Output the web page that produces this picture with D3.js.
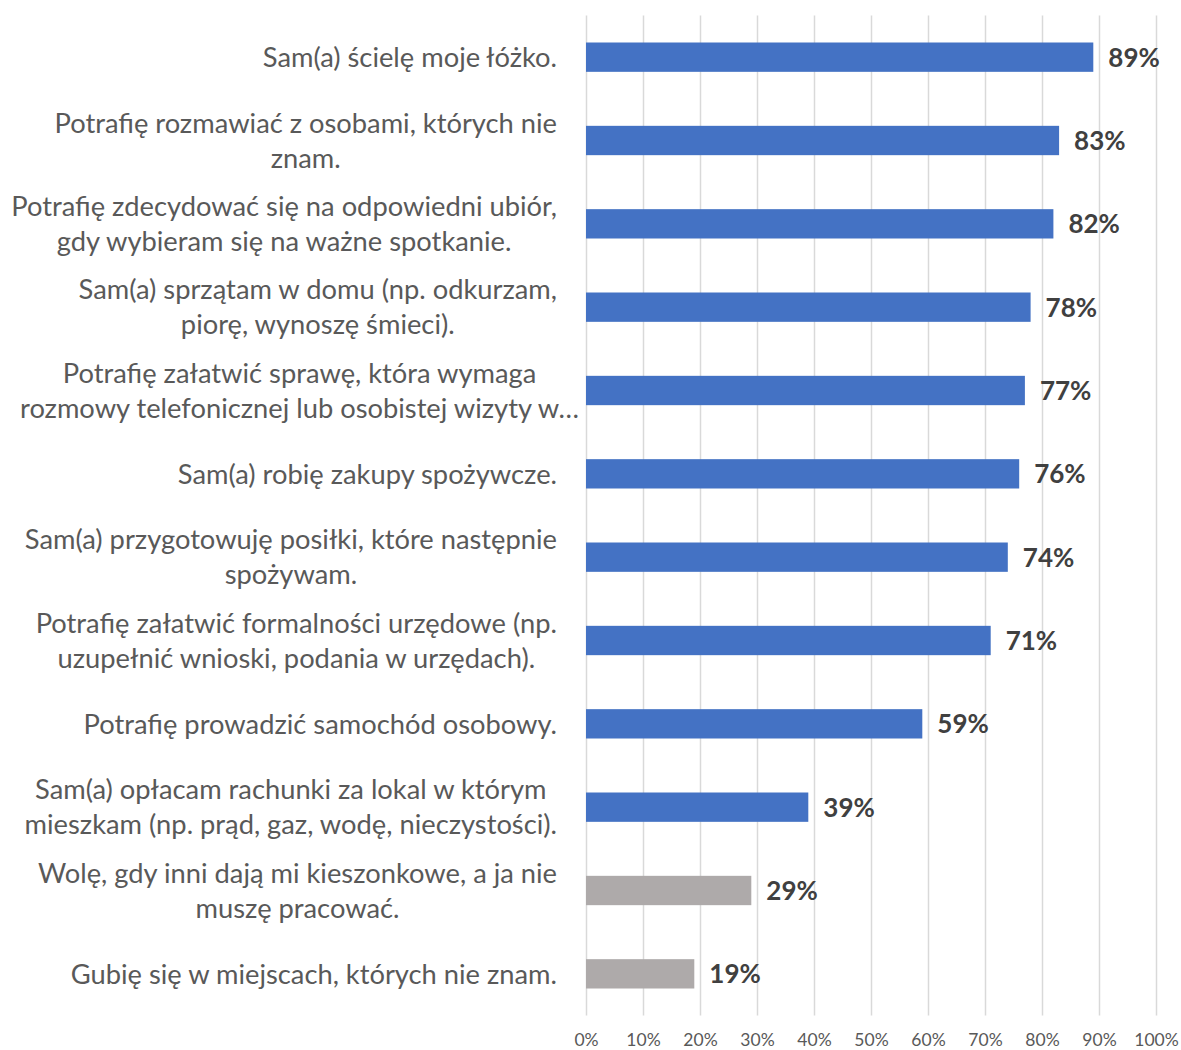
<!DOCTYPE html>
<html>
<head>
<meta charset="utf-8">
<script src="https://cdn.jsdelivr.net/npm/d3@7"></script>
<style>
  html, body { margin: 0; padding: 0; background: #ffffff; }
  svg { display: block; }
</style>
</head>
<body>
<svg id="chart" width="1181" height="1050"></svg>
<script>
// ---- data ----
const categories = [
  ["Sam(a) ścielę moje łóżko."],
  ["Potrafię rozmawiać z osobami, których nie", "znam."],
  ["Potrafię zdecydować się na odpowiedni ubiór,", "gdy wybieram się na ważne spotkanie."],
  ["Sam(a) sprzątam w domu (np. odkurzam,", "piorę, wynoszę śmieci)."],
  ["Potrafię załatwić sprawę, która wymaga", "rozmowy telefonicznej lub osobistej wizyty w…"],
  ["Sam(a) robię zakupy spożywcze."],
  ["Sam(a) przygotowuję posiłki, które następnie", "spożywam."],
  ["Potrafię załatwić formalności urzędowe (np.", "uzupełnić wnioski, podania w urzędach)."],
  ["Potrafię prowadzić samochód osobowy."],
  ["Sam(a) opłacam rachunki za lokal w którym", "mieszkam (np. prąd, gaz, wodę, nieczystości)."],
  ["Wolę, gdy inni dają mi kieszonkowe, a ja nie", "muszę pracować."],
  ["Gubię się w miejscach, których nie znam."]
];
const values = [0.89, 0.83, 0.82, 0.78, 0.77, 0.76, 0.74, 0.71, 0.59, 0.39, 0.29, 0.19];
const groups = ["a","a","a","a","a","a","a","a","a","a","b","b"];
const tickValues = [0, 0.1, 0.2, 0.3, 0.4, 0.5, 0.6, 0.7, 0.8, 0.9, 1.0];

// ---- layout ----
const plot = { left: 586, right: 1156, top: 15.5, bottom: 1015.5 };
const labelRight = 557;
const FONT = "Lato, 'Open Sans', 'DejaVu Sans', sans-serif";

const svg = d3.select("#chart");

const x = d3.scaleLinear().domain([0, 1]).range([plot.left, plot.right]);
const y = d3.scaleBand()
  .domain(d3.range(categories.length))
  .range([plot.top, plot.bottom])
  .paddingInner(0.648)
  .paddingOuter(0.324);
const color = d3.scaleOrdinal().domain(["a", "b"]).range(["#4472C4", "#AEAAAA"]);

// gridlines
const grid = svg.append("g")
  .attr("transform", `translate(0,${plot.bottom})`)
  .call(d3.axisBottom(x).tickValues(tickValues).tickSize(-(plot.bottom - plot.top)).tickFormat(""));
grid.select(".domain").remove();
grid.selectAll("line").attr("stroke", "#D9D9D9").attr("stroke-width", 1.5);

// x axis labels
const xAxis = svg.append("g")
  .attr("transform", `translate(0,${plot.bottom})`)
  .call(d3.axisBottom(x).tickValues(tickValues).tickSize(0).tickFormat(d3.format(".0%")));
xAxis.select(".domain").remove();
xAxis.selectAll("text")
  .attr("y", 24.5)
  .attr("dy", "0.35em")
  .attr("fill", "#595959")
  .style("font-family", FONT)
  .style("font-size", "17.5px");

// bars
svg.append("g").selectAll("rect")
  .data(values)
  .join("rect")
  .attr("x", x(0))
  .attr("y", (d, i) => y(i))
  .attr("width", d => x(d) - x(0))
  .attr("height", y.bandwidth())
  .attr("fill", (d, i) => color(groups[i]));

// value labels
svg.append("g").selectAll("text")
  .data(values)
  .join("text")
  .attr("x", d => x(d) + 15)
  .attr("y", (d, i) => y(i) + y.bandwidth() / 2)
  .attr("dy", "0.36em")
  .attr("fill", "#404040")
  .style("font-family", FONT)
  .style("font-weight", "bold")
  .style("font-size", "26px")
  .text(d => d3.format(".0%")(d));

// category labels (right-aligned block, lines centred within block)
const lineH = 35;
const catG = svg.append("g");
categories.forEach((lines, i) => {
  const cy = y(i) + y.bandwidth() / 2;
  const g = catG.append("g");
  const texts = lines.map((ln, j) =>
    g.append("text")
      .attr("y", cy + (j - (lines.length - 1) / 2) * lineH)
      .attr("dy", "0.36em")
      .attr("text-anchor", "middle")
      .attr("fill", "#595959")
      .style("font-family", FONT)
      .style("font-size", "27.3px")
      .text(ln)
  );
  const w = d3.max(texts, t => t.node().getComputedTextLength());
  let right = labelRight;
  if (right - w < 4) right = 20 + w;   // overflowing (truncated) label keeps a left margin
  texts.forEach(t => t.attr("x", right - w / 2));
});
</script>
</body>
</html>
